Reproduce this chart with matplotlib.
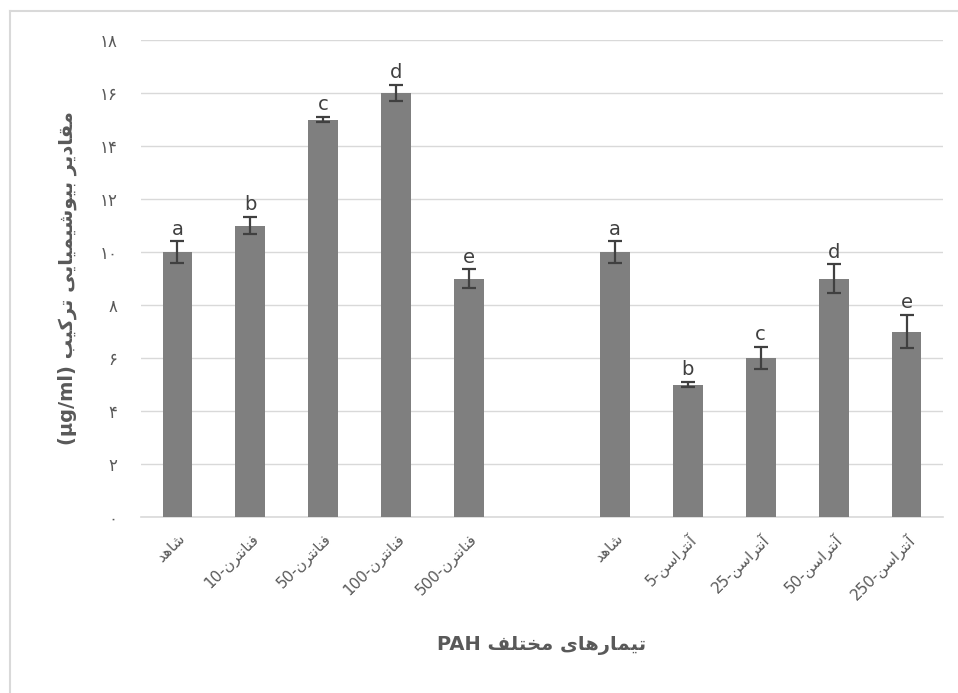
import numpy as np
import matplotlib
matplotlib.use('Agg')
import matplotlib.pyplot as plt
from matplotlib.lines import Line2D

# data
categories = ['شاهد', 'فنانترن-10', 'فنانترن-50', 'فنانترن-100', 'فنانترن-500', '',
              'شاهد', 'آنتراسن-5', 'آنتراسن-25', 'آنتراسن-50', 'آنتراسن-250']
values = [10, 11, 15, 16, 9, np.nan, 10, 5, 6, 9, 7]
errors = [0.4, 0.32, 0.1, 0.3, 0.34, np.nan, 0.4, 0.1, 0.43, 0.53, 0.64]
letters = ['a', 'b', 'c', 'd', 'e', '', 'a', 'b', 'c', 'd', 'e']
yticks = [0, 2, 4, 6, 8, 10, 12, 14, 16, 18]
ytick_labels = ['۰', '۲', '۴', '۶', '۸', '۱۰', '۱۲', '۱۴', '۱۶', '۱۸']
xlabel_fa = 'تیمارهای مختلف'
xlabel_en = 'PAH'
ylabel_fa = 'مقادیر بیوشیمیایی ترکیب'
ylabel_en = '(µg/ml)'

# matplotlib has no arabic shaping, so pick presentation forms by hand
# (isolated, final, initial, medial); None initial = letter does not join forward
FORMS = {
    'ا': ('\uFE8D', '\uFE8E', None, None),
    'آ': ('\uFE81', '\uFE82', None, None),
    'د': ('\uFEA9', '\uFEAA', None, None),
    'ر': ('\uFEAD', '\uFEAE', None, None),
    'و': ('\uFEED', '\uFEEE', None, None),
    'ب': ('\uFE8F', '\uFE90', '\uFE91', '\uFE92'),
    'ت': ('\uFE95', '\uFE96', '\uFE97', '\uFE98'),
    'خ': ('\uFEA5', '\uFEA6', '\uFEA7', '\uFEA8'),
    'س': ('\uFEB1', '\uFEB2', '\uFEB3', '\uFEB4'),
    'ش': ('\uFEB5', '\uFEB6', '\uFEB7', '\uFEB8'),
    'ف': ('\uFED1', '\uFED2', '\uFED3', '\uFED4'),
    'ق': ('\uFED5', '\uFED6', '\uFED7', '\uFED8'),
    'ل': ('\uFEDD', '\uFEDE', '\uFEDF', '\uFEE0'),
    'م': ('\uFEE1', '\uFEE2', '\uFEE3', '\uFEE4'),
    'ن': ('\uFEE5', '\uFEE6', '\uFEE7', '\uFEE8'),
    'ه': ('\uFEE9', '\uFEEA', '\uFEEB', '\uFEEC'),
    'ی': ('\uFBFC', '\uFBFD', '\uFBFE', '\uFBFF'),
    'ک': ('\uFB8E', '\uFB8F', '\uFB90', '\uFB91'),
}


def shape(text):
    out = []
    for i, ch in enumerate(text):
        if ch not in FORMS:
            out.append(ch)
            continue
        iso, fin, ini, med = FORMS[ch]
        prev = text[i - 1] if i > 0 else None
        nxt = text[i + 1] if i < len(text) - 1 else None
        join_prev = prev in FORMS and FORMS[prev][2] is not None
        join_next = nxt in FORMS and ini is not None
        if join_prev and join_next:
            out.append(med)
        elif join_prev:
            out.append(fin)
        elif join_next:
            out.append(ini)
        else:
            out.append(iso)
    return ''.join(reversed(out))


def visual(label):
    # "name-number" shows as number-name in a rtl line
    if '-' in label:
        name, num = label.split('-')
        return num + '-' + shape(name)
    return shape(label)


plt.rcParams['font.family'] = ['DejaVu Sans']
grey_txt = '#595959'
grid_col = '#d9d9d9'

fig = plt.figure(figsize=(9.58, 6.93), dpi=100)
ax = fig.add_axes([141 / 958, 1 - 517 / 693, (943 - 141) / 958, (517 - 40) / 693])

x = np.arange(len(categories))
ax.bar(x, values, width=0.41, color='#7f7f7f', zorder=3)
ax.errorbar(x, values, yerr=errors, fmt='none', ecolor='#404040', elinewidth=1.6,
            capsize=5, capthick=1.6, zorder=4)

for xi, v, e, t in zip(x, values, errors, letters):
    if t:
        ax.annotate(t, (xi, v + e), xytext=(0, 2), textcoords='offset points',
                    ha='center', va='bottom', fontsize=14, color='#404040')

ax.set_xlim(-0.5, len(categories) - 0.5)
ax.set_ylim(0, 18)
ax.set_yticks(yticks)
ax.set_yticklabels(ytick_labels, fontsize=12, color=grey_txt)
ax.set_xticks(x)
ax.set_xticklabels([visual(c) for c in categories], rotation=45, ha='right', va='top',
                   rotation_mode='anchor', fontsize=11, color=grey_txt)
ax.tick_params(axis='both', length=0)
ax.tick_params(axis='y', pad=17)
ax.tick_params(axis='x', pad=10)
ax.grid(axis='y', color=grid_col, linewidth=1.0, zorder=0)
for s in ['top', 'right', 'left']:
    ax.spines[s].set_visible(False)
ax.spines['bottom'].set_color(grid_col)
ax.spines['bottom'].set_linewidth(1.2)

ax.set_xlabel(xlabel_en + ' ' + shape(xlabel_fa), fontsize=14, fontweight='bold',
              color=grey_txt, labelpad=24)
ax.set_ylabel(ylabel_en + ' ' + shape(ylabel_fa), fontsize=14, fontweight='bold',
              color=grey_txt, labelpad=16)

# chart area border, only its top and left edges fall inside the picture
fig.lines.append(Line2D([10 / 958, 10 / 958], [0, 1 - 11 / 693], transform=fig.transFigure,
                        color=grid_col, linewidth=1.5))
fig.lines.append(Line2D([10 / 958, 1], [1 - 11 / 693, 1 - 11 / 693], transform=fig.transFigure,
                        color=grid_col, linewidth=1.5))

fig.savefig('out.png', dpi=100)
